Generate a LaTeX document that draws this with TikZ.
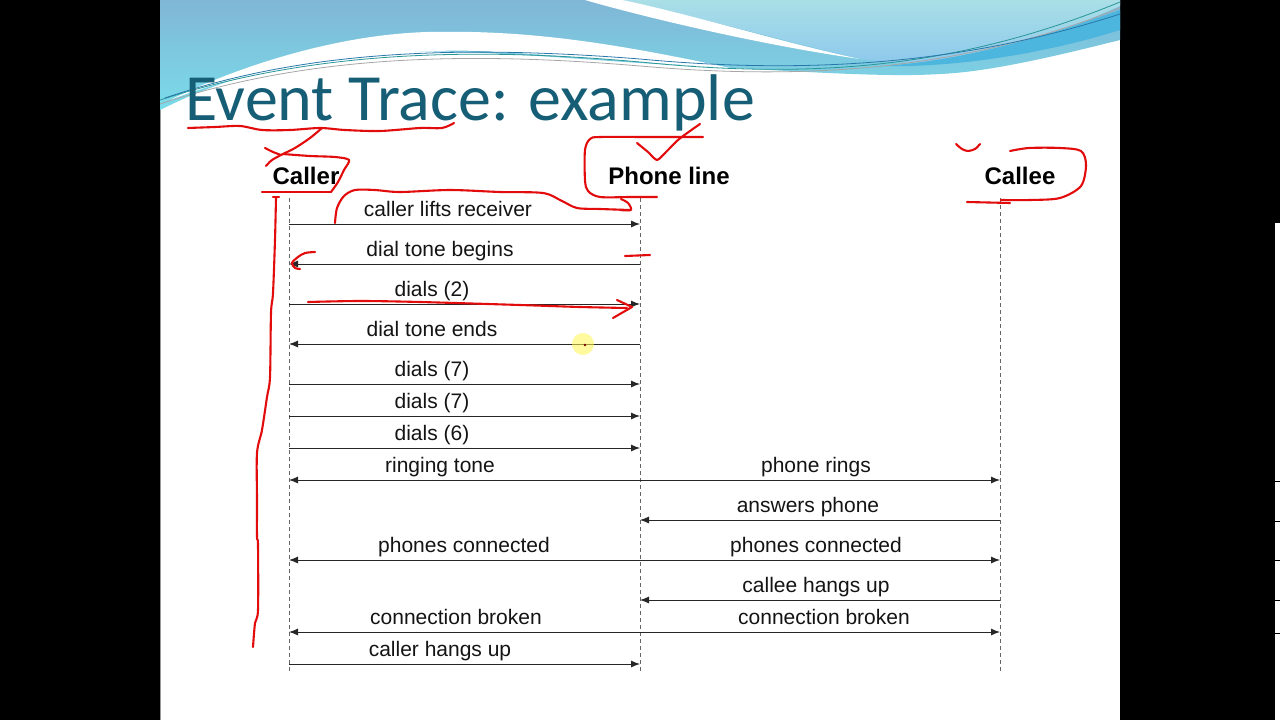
\documentclass[tikz,border=0pt]{standalone}
\usepackage{fontspec}
\setmainfont{Liberation Sans}
\newfontfamily\titlefont{Carlito}
\usetikzlibrary{arrows.meta}
\definecolor{titleteal}{RGB}{22,94,118}
\definecolor{penred}{RGB}{226,12,12}
\definecolor{skytop}{RGB}{128,182,214}
\definecolor{skybot}{RGB}{122,220,234}
\definecolor{paletop}{RGB}{170,223,231}
\definecolor{palebot}{RGB}{140,200,236}
\definecolor{ribbon}{RGB}{76,182,222}
\begin{document}
\begin{tikzpicture}[x=1pt,y=-1pt,
  msg/.style={draw=black!85, line width=0.9pt},
  tip/.style={-{Latex[length=9pt,width=7pt]}},
  bothtip/.style={{Latex[length=9pt,width=7pt]}-{Latex[length=9pt,width=7pt]}},
  lbl/.style={font=\fontsize{21}{24}\selectfont, anchor=base, inner sep=0pt, text=black!92},
  hdr/.style={font=\bfseries\fontsize{24}{28}\selectfont, anchor=base, inner sep=0pt},
  life/.style={draw=black!60, line width=0.9pt, dash pattern=on 4pt off 3pt},
  redpen/.style={draw=penred, line width=2.1pt, line cap=round, line join=round},
  thinline/.style={line width=0.8pt}]
\useasboundingbox (0,0) rectangle (1280,720);
% screen background and slide
\fill[black] (0,0) rectangle (1280,720);
\fill[white] (160,0) rectangle (1120,720);
\draw[black!40, line width=1pt] (160.5,0) -- (160.5,720);
% right sliver of another window
\fill[white] (1275,223) rectangle (1280,720);
\foreach \yy in {481,521,560,600,633} \draw[black, line width=0.8pt] (1275,\yy) -- (1280,\yy);
% ---- top decoration ----
\shade[top color=skytop, bottom color=skybot]
  (160,0) -- (1120,0) -- (1120,40) .. controls (1060,55) and (990,72) .. (940,74)
  .. controls (880,78) and (780,70) .. (640,63)
  .. controls (520,55) and (420,45) .. (330,57)
  .. controls (250,70) and (200,90) .. (160,110) -- cycle;
% white band A
\fill[white] (170,100) .. controls (230,70) and (330,35) .. (427,32)
  .. controls (520,30) and (600,40) .. (730,68)
  .. controls (660,64) and (560,55) .. (480,51)
  .. controls (380,48) and (260,65) .. (170,100) -- cycle;
% pale region upper right
\shade[top color=paletop, bottom color=palebot]
  (615,0) .. controls (680,12) and (780,40) .. (857,58)
  .. controls (900,66) and (960,64) .. (1010,48)
  .. controls (1060,32) and (1100,15) .. (1120,6) -- (1120,0) -- cycle;
% white wedge B
\fill[white] (585,0) .. controls (640,16) and (760,45) .. (860,59)
  .. controls (780,42) and (690,14) .. (622,0) -- cycle;
% dark ribbon right
\fill[ribbon] (880,66) .. controls (960,62) and (1050,35) .. (1120,10)
  -- (1120,30) .. controls (1050,52) and (960,68) .. (880,66) -- cycle;
% thin lines
\draw[thinline, draw={rgb,255:red,40;green,150;blue,150}] (160,100) .. controls (300,55) and (450,45) .. (640,62) .. controls (800,78) and (950,72) .. (1120,2);
\draw[thinline, draw=black!35] (160,104) .. controls (300,58) and (450,50) .. (640,66) .. controls (800,80) and (960,72) .. (1120,8);
\draw[thinline, draw={rgb,255:red,40;green,120;blue,170}] (165,98) .. controls (300,52) and (450,44) .. (640,59) .. controls (800,74) and (960,66) .. (1120,14);
% ---- title ----
\node[anchor=base west, inner sep=0pt, text=titleteal, font=\titlefont\fontsize{66}{70}\selectfont] (title) at (185,120) {Event Trace: example};
% ---- headers ----
\node[hdr] (caller) at (306,184) {Caller};
\node[hdr] (phone) at (669,184) {Phone line};
\node[hdr] (callee) at (1020,184) {Callee};
% lifelines
\coordinate (cT) at (289,198); \coordinate (cB) at (289,672);
\coordinate (pT) at (640,198); \coordinate (pB) at (640,672);
\coordinate (eT) at (1000,198); \coordinate (eB) at (1000,672);
\draw[life] (cT) -- (cB);
\draw[life] (pT) -- (pB);
\draw[life] (eT) -- (eB);
% message end points
\foreach \n/\y in {1/224,2/264,3/304,4/344,5/384,6/416,7/448,8/480,9/520,10/560,11/600,12/632,13/664}{
  \coordinate (C\n) at (289,\y);
  \coordinate (P\n) at (640,\y);
  \coordinate (E\n) at (1000,\y);
}
% messages
\draw[msg,tip] (C1) -- (P1);
\draw[msg,tip] (P2) -- (C2);
\draw[msg,tip] (C3) -- (P3);
\draw[msg,tip] (P4) -- (C4);
\draw[msg,tip] (C5) -- (P5);
\draw[msg,tip] (C6) -- (P6);
\draw[msg,tip] (C7) -- (P7);
\draw[msg,bothtip] (C8) -- (E8);
\draw[msg,tip] (E9) -- (P9);
\draw[msg,bothtip] (C10) -- (E10);
\draw[msg,tip] (E11) -- (P11);
\draw[msg,bothtip] (C12) -- (E12);
\draw[msg,tip] (C13) -- (P13);
% labels
\node[lbl] (l1) at (448,216) {caller lifts receiver};
\node[lbl] (l2) at (440,256) {dial tone begins};
\node[lbl] (l3) at (432,296) {dials (2)};
\node[lbl] (l4) at (432,336) {dial tone ends};
\node[lbl] (l5) at (432,376) {dials (7)};
\node[lbl] (l6) at (432,408) {dials (7)};
\node[lbl] (l7) at (432,440) {dials (6)};
\node[lbl] (l8a) at (440,472) {ringing tone};
\node[lbl] (l8b) at (816,472) {phone rings};
\node[lbl] (l9) at (808,512) {answers phone};
\node[lbl] (l10a) at (464,552) {phones connected};
\node[lbl] (l10b) at (816,552) {phones connected};
\node[lbl] (l11) at (816,592) {callee hangs up};
\node[lbl] (l12a) at (456,624) {connection broken};
\node[lbl] (l12b) at (824,624) {connection broken};
\node[lbl] (l13) at (440,656) {caller hangs up};
% cursor highlight
\fill[yellow!70, opacity=0.55] (583,344) circle (11);
\fill[red!50!black] (585,345) circle (1.3);
% ---- red pen annotations ----
\draw[redpen] plot[smooth, tension=0.5] coordinates {(188,128) (215,127) (240,126) (262,130) (290,130) (320,128) (345,130) (380,131) (420,128) (442,128) (454,123)};
\draw[redpen] plot[smooth, tension=0.5] coordinates {(322,128) (310,138) (295,148) (283,154) (272,160) (266,166)};
\draw[redpen] plot[smooth, tension=0.5] coordinates {(265,148) (273,152) (281,155)};
\draw[redpen] plot[smooth, tension=0.5] coordinates {(283,154) (310,156) (335,157) (349,160) (344,170) (338,182) (331,192)};
\draw[redpen] (331,192) -- (262,192);
\draw[redpen] (273,197) -- (279,197);
\draw[redpen] plot[smooth, tension=0.5] coordinates {(276,198) (275,240) (273,293) (271,313) (270,377) (267,397) (262,430) (257,453) (257,500) (257,537) (258,545) (258,610) (255,623) (253,647)};
\draw[redpen] plot[smooth, tension=0.5] coordinates {(335,223) (337,208) (344,196) (355,190) (375,190) (400,192) (450,190) (500,192) (543,193) (562,201) (577,208) (600,209) (630,210)};
\draw[redpen] plot[smooth, tension=0.5] coordinates {(621,199) (628,203) (631,210) (620,210)};
\draw[redpen] plot[smooth, tension=0.5] coordinates {(657,197) (630,197) (600,197) (588,191) (585,180) (585,150) (590,139) (600,137) (650,137) (703,137)};
\draw[redpen] plot[smooth, tension=0.4] coordinates {(637,143) (648,152) (657,160) (666,152) (678,140) (690,131) (700,124)};
\draw[redpen] plot[smooth, tension=0.5] coordinates {(956,144) (962,149) (968,151) (975,149) (980,144)};
\draw[redpen] plot[smooth, tension=0.5] coordinates {(1010,151) (1029,148) (1060,148) (1081,151) (1086,165) (1081,186) (1060,198) (1030,200) (1001,200)};
\draw[redpen] (967,202) -- (1010,203);
\draw[redpen] plot[smooth, tension=0.5] coordinates {(315,252) (305,253) (298,257) (292,263) (295,268) (300,269)};
\draw[redpen] (625,256) -- (650,255);
\draw[redpen] plot[smooth, tension=0.5] coordinates {(308,302) (360,301) (420,302) (520,305) (580,307) (627,308)};
\draw[redpen] (617,300) -- (632,307) -- (613,318);
\end{tikzpicture}
\end{document}
